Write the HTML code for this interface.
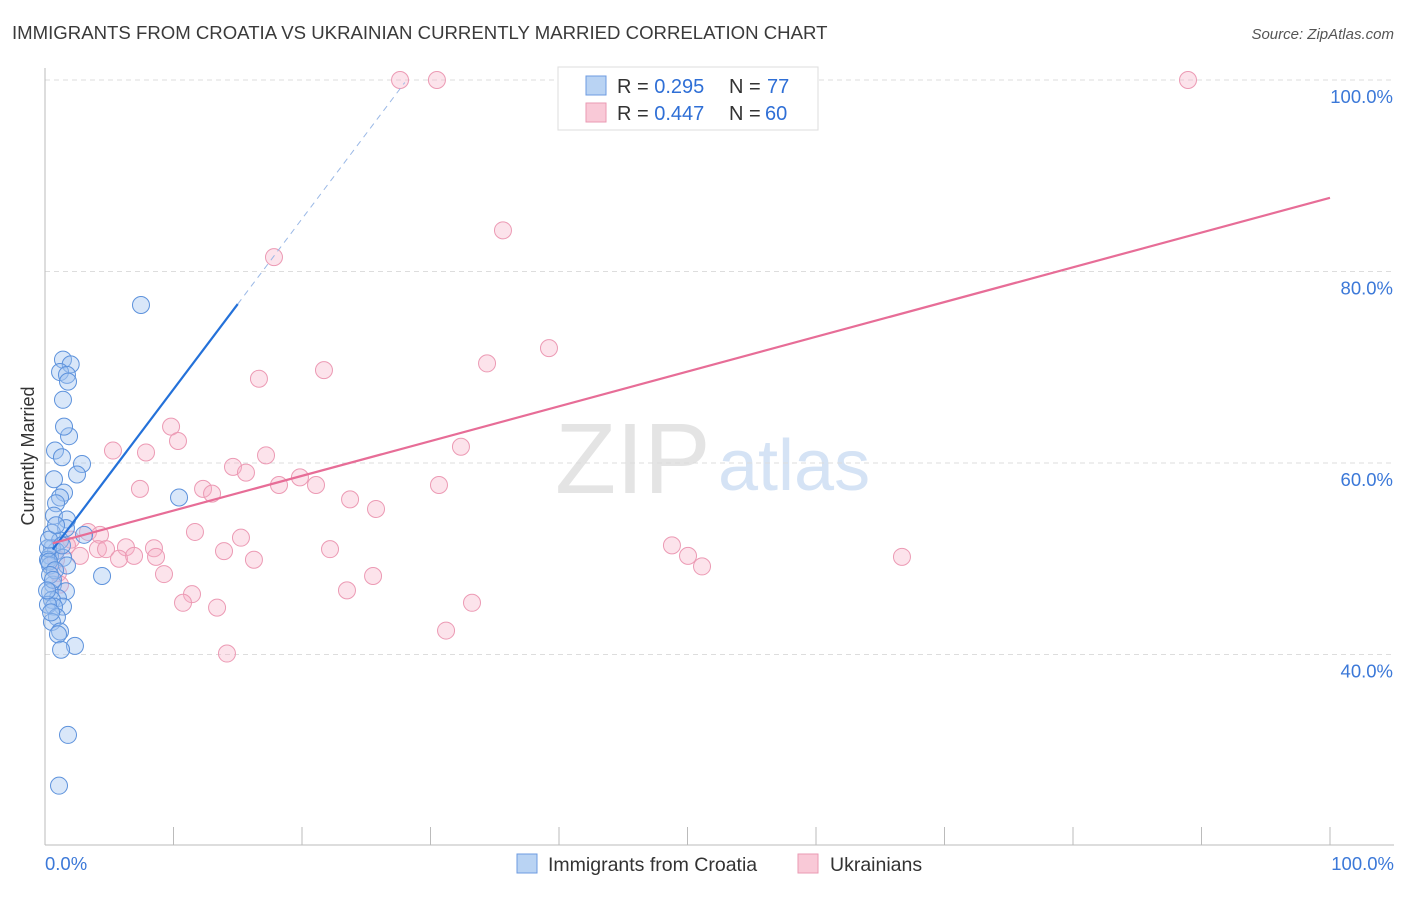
<!DOCTYPE html>
<html><head><meta charset="utf-8"><style>
body{margin:0;background:#fff;font-family:"Liberation Sans",sans-serif}
svg text{font-family:"Liberation Sans",sans-serif}
</style></head><body>
<svg id="c" width="1406" height="892">
<text x="12" y="39" font-size="18.6" fill="#3a3a3a">IMMIGRANTS FROM CROATIA VS UKRAINIAN CURRENTLY MARRIED CORRELATION CHART</text>
<text x="1394" y="39" font-size="15" fill="#555" text-anchor="end" font-style="italic">Source: ZipAtlas.com</text>
<text x="34" y="456" font-size="18" fill="#333" text-anchor="middle" transform="rotate(-90 34 456)">Currently Married</text>
<text x="555" y="493" font-size="100" fill="#e4e4e4" font-family="Liberation Serif">ZIP</text>
<text x="718" y="490" font-size="72" fill="#d5e3f5">atlas</text>
<g id="grid"></g><g id="pts"></g><g id="lines"></g>
<g>
<rect x="558" y="67" width="260" height="63" fill="#fff" stroke="#ddd"/>
<rect x="586" y="76" width="20" height="19" fill="#b9d3f3" stroke="#6d9be0"/>
<rect x="586" y="103" width="20" height="19" fill="#f9c9d7" stroke="#ea9ab3"/>
<text x="617" y="93" font-size="20" fill="#333">R = <tspan fill="#2f6fd6">0.295</tspan></text>
<text x="729" y="93" font-size="20" fill="#333">N = </text>
<text x="767" y="93" font-size="20" fill="#2f6fd6">77</text>
<text x="617" y="120" font-size="20" fill="#333">R = <tspan fill="#2f6fd6">0.447</tspan></text>
<text x="729" y="120" font-size="20" fill="#333">N = </text>
<text x="765" y="120" font-size="20" fill="#2f6fd6">60</text>
</g>
<g>
<rect x="517" y="854" width="20" height="19" fill="#b9d3f3" stroke="#6d9be0"/>
<text x="548" y="871" font-size="19.5" fill="#333">Immigrants from Croatia</text>
<rect x="798" y="854" width="20" height="19" fill="#f9c9d7" stroke="#ea9ab3"/>
<text x="830" y="871" font-size="19.5" fill="#333">Ukrainians</text>
</g>
</svg>
<script>
const yTicks=[40,60,80,100];
const yTickLabels=["40.0%","60.0%","80.0%","100.0%"];
const xTicks=[0,10,20,30,40,50,60,70,80,90,100];
const blueX=[7.47,1.4,2.0,1.17,1.71,1.79,1.4,1.87,1.48,0.78,1.32,2.88,2.49,0.7,1.48,1.17,0.86,0.7,1.71,1.63,0.54,3.04,1.17,0.54,0.86,0.39,0.23,1.4,1.71,0.39,4.44,10.43,0.62,1.63,0.39,1.01,0.54,1.4,0.7,0.23,0.93,0.54,1.17,1.01,2.33,1.25,1.79,1.09,0.23,0.31,0.78,0.39,0.62,0.16,0.47,0.31,1.32,0.86];
const blueY=[76.5,70.8,70.3,69.5,69.2,68.5,66.6,62.8,63.8,61.3,60.6,59.9,58.8,58.3,56.9,56.4,55.8,54.5,54.1,53.2,52.7,52.5,51.9,51.1,50.8,50.3,49.9,50.1,49.3,49.3,48.2,56.4,47.3,46.6,46.5,45.9,45.7,45.0,45.0,45.2,43.9,43.4,42.4,42.1,40.9,40.5,31.6,26.3,51.1,49.7,48.8,48.3,47.8,46.7,44.4,52.0,51.4,53.5];
const pinkX=[27.63,30.5,88.95,35.64,17.82,39.22,34.4,21.71,16.65,9.81,10.35,5.29,7.86,32.37,17.2,14.63,15.64,19.84,18.21,21.09,7.39,12.3,13.0,23.74,30.66,25.76,11.67,15.25,3.35,4.28,2.02,4.12,6.3,8.48,4.75,5.76,6.93,8.64,13.93,16.26,22.18,48.79,50.04,51.13,66.69,2.72,1.01,1.17,9.26,11.44,25.53,10.74,13.39,23.5,33.23,31.21,14.16,1.71,0.86];
const pinkY=[100,100,100,84.3,81.5,72.0,70.4,69.7,68.8,63.8,62.3,61.3,61.1,61.7,60.8,59.6,59.0,58.5,57.7,57.7,57.3,57.3,56.8,56.2,57.7,55.2,52.8,52.2,52.8,52.5,52.0,51.0,51.2,51.1,51.0,50.0,50.3,50.2,50.8,49.9,51.0,51.4,50.3,49.2,50.2,50.3,48.5,47.3,48.4,46.3,48.2,45.4,44.9,46.7,45.4,42.5,40.1,51.4,49.9];
const blueFit=[49.9,1.78];
const pinkFit=[51.4,0.363];
const X=v=>45+v*12.85, Y=v=>80+(100-v)*9.575;
const NS="http://www.w3.org/2000/svg";
function mk(p,t,a){const e=document.createElementNS(NS,t);for(const k in a)e.setAttribute(k,a[k]);p.appendChild(e);return e;}
const grid=document.getElementById('grid');
yTicks.forEach((t,i)=>{
 const l=mk(grid,'line',{x1:45,x2:1394,y1:Y(t),y2:Y(t),stroke:'#ddd','stroke-dasharray':'5,4'});
 
 
 const tx=mk(grid,'text',{x:1393,y:Y(t)+23,'font-size':18.5,fill:'#3b78d8','text-anchor':'end'});
 tx.textContent=yTickLabels[i];
 
 
});
const ax=mk(grid,'line',{x1:45,x2:45,y1:68,y2:845,stroke:'#bbb'});


const bx=mk(grid,'line',{x1:45,x2:1394,y1:845,y2:845,stroke:'#bbb'});


xTicks.forEach(t=>{
 const l=mk(grid,'line',{x1:X(t),x2:X(t),y1:827,y2:845,stroke:'#bbb'});
 
 
});
[[0,'0.0%','start',45],[100,'100.0%','end',1394]].forEach(d=>{
 const tx=mk(grid,'text',{x:d[3],y:870,'font-size':18.5,fill:'#3b78d8','text-anchor':d[2]});
 tx.textContent=d[1];
 
 
});
const pts=document.getElementById('pts');
pinkX.forEach((x,i)=>{
 const c=mk(pts,'circle',{cx:X(x),cy:Y(pinkY[i]),r:8.5,fill:'rgba(246,176,198,0.35)',stroke:'#ec9ab4','stroke-width':1});
 
 
});
blueX.forEach((x,i)=>{
 const c=mk(pts,'circle',{cx:X(x),cy:Y(blueY[i]),r:8.5,fill:'rgba(160,195,240,0.4)',stroke:'#5d92dc','stroke-width':1});
 
 
});
const lines=document.getElementById('lines');
const bl=mk(lines,'line',{x1:X(0.6),y1:Y(blueFit[0]+blueFit[1]*0.6),x2:X(15),y2:Y(blueFit[0]+blueFit[1]*15),stroke:'#2471d9','stroke-width':2.2});


const bd=mk(lines,'line',{x1:X(15),y1:Y(blueFit[0]+blueFit[1]*15),x2:X(28),y2:Y(blueFit[0]+blueFit[1]*28),stroke:'#9ab8e6','stroke-width':1,'stroke-dasharray':'6,5'});


const pl=mk(lines,'line',{x1:X(0.6),y1:Y(pinkFit[0]+pinkFit[1]*0.6),x2:X(100),y2:Y(pinkFit[0]+pinkFit[1]*100),stroke:'#e76d97','stroke-width':2.2});


</script>
</body></html>
